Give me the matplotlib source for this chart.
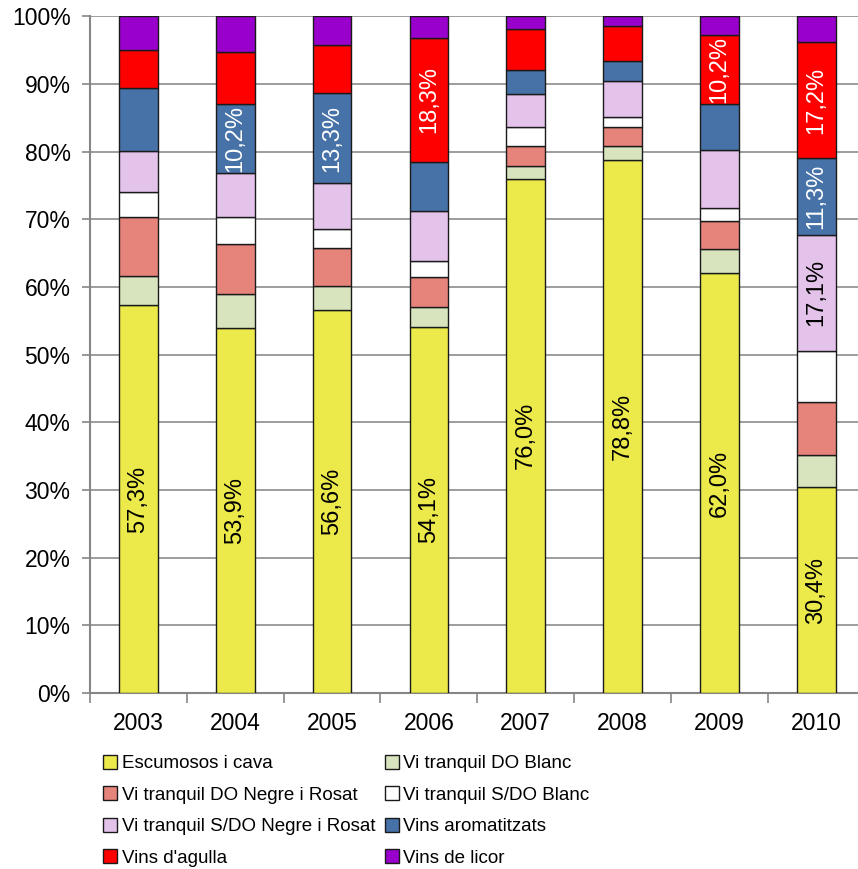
import numpy as np
import matplotlib
matplotlib.use("Agg")
import matplotlib.pyplot as plt
from matplotlib.patches import Patch
from matplotlib.ticker import FixedLocator, PercentFormatter

plt.rcParams["font.family"] = ["Liberation Sans", "DejaVu Sans"]

years = ["2003", "2004", "2005", "2006", "2007", "2008", "2009", "2010"]

series_names = [
    "Escumosos i cava",
    "Vi tranquil DO Blanc",
    "Vi tranquil DO Negre i Rosat",
    "Vi tranquil S/DO Blanc",
    "Vi tranquil S/DO Negre i Rosat",
    "Vins aromatitzats",
    "Vins d'agulla",
    "Vins de licor",
]

# shares in %, one list per category (bottom to top)
escumosos = [57.3, 53.9, 56.6, 54.1, 76.0, 78.8, 62.0, 30.4]
do_blanc = [4.3, 5.1, 3.6, 2.9, 1.9, 2.1, 3.6, 4.8]
do_negre = [8.7, 7.3, 5.5, 4.5, 3.0, 2.8, 4.2, 7.8]
sdo_blanc = [3.8, 4.0, 2.9, 2.3, 2.7, 1.4, 1.9, 7.6]
sdo_negre = [6.0, 6.6, 6.7, 7.4, 4.9, 5.3, 8.5, 17.1]
aromatitzats = [9.3, 10.2, 13.3, 7.3, 3.5, 3.0, 6.8, 11.3]
agulla = [5.6, 7.6, 7.2, 18.3, 6.1, 5.2, 10.2, 17.2]
licor = [5.0, 5.3, 4.2, 3.2, 1.9, 1.4, 2.8, 3.8]

series = [escumosos, do_blanc, do_negre, sdo_blanc, sdo_negre,
          aromatitzats, agulla, licor]

colors = ["#ECE94A", "#D7E4BD", "#E6837B", "#FFFFFF",
          "#E4C3EB", "#4672A8", "#FF0000", "#9900CC"]

# which segments carry a value label: (series index, year index)
labelled = [(0, i) for i in range(8)] + [
    (5, 1), (5, 2), (6, 3), (6, 6), (4, 7), (5, 7), (6, 7)]
label_colors = {0: "black", 4: "black", 5: "white", 6: "white"}

fig = plt.figure(figsize=(8.58, 8.69), dpi=100)
ax = fig.add_axes([90 / 858, 176 / 869, 774.6 / 858, 676.7 / 869])

x = np.arange(len(years))
bottom = np.zeros(len(years))
for vals, name, col in zip(series, series_names, colors):
    vals = np.array(vals)
    ax.bar(x, vals, 0.4, bottom=bottom, color=col, edgecolor="#1a1a1a",
           linewidth=1.0, label=name, zorder=3)
    bottom += vals

for s, i in labelled:
    vals = np.array(series)
    base = vals[:s, i].sum()
    v = vals[s, i]
    ax.text(i, base + v / 2, f"{v:.1f}%".replace(".", ","), rotation=90,
            ha="center", va="center", fontsize=17,
            color=label_colors[s], zorder=4)

ax.set_xlim(-0.5, 7.5)
ax.set_ylim(0, 100)
ax.yaxis.set_major_locator(FixedLocator(np.arange(0, 101, 10)))
ax.yaxis.set_major_formatter(PercentFormatter(decimals=0))
ax.set_xticks(x)
ax.set_xticklabels(years)
ax.xaxis.set_minor_locator(FixedLocator(np.arange(-0.5, 8, 1)))
ax.tick_params(axis="x", which="major", length=0, pad=14, labelsize=16.5)
ax.tick_params(axis="x", which="minor", length=7, color="#868686", width=1.2)
ax.tick_params(axis="y", length=6, color="#868686", width=1.2, pad=8,
               labelsize=16.5)

ax.grid(axis="y", color="#8c8c8c", linewidth=1.2, zorder=0)
for side in ["top", "right"]:
    ax.spines[side].set_visible(False)
for side in ["left", "bottom"]:
    ax.spines[side].set_color("#868686")
    ax.spines[side].set_linewidth(1.5)

handles = [Patch(facecolor=c, edgecolor="#1a1a1a", linewidth=1.0)
           for c in colors]
order = [0, 2, 4, 6, 1, 3, 5, 7]
leg = fig.legend([handles[k] for k in order], [series_names[k] for k in order],
                 loc="upper left", bbox_to_anchor=(103 / 858, 1 - 755 / 869),
                 ncol=2, frameon=False, fontsize=13.5,
                 handlelength=0.75, handleheight=0.75, handletextpad=0.25,
                 columnspacing=0.5, labelspacing=0.75, borderaxespad=0,
                 borderpad=0)

fig.savefig("out.png", dpi=100)
